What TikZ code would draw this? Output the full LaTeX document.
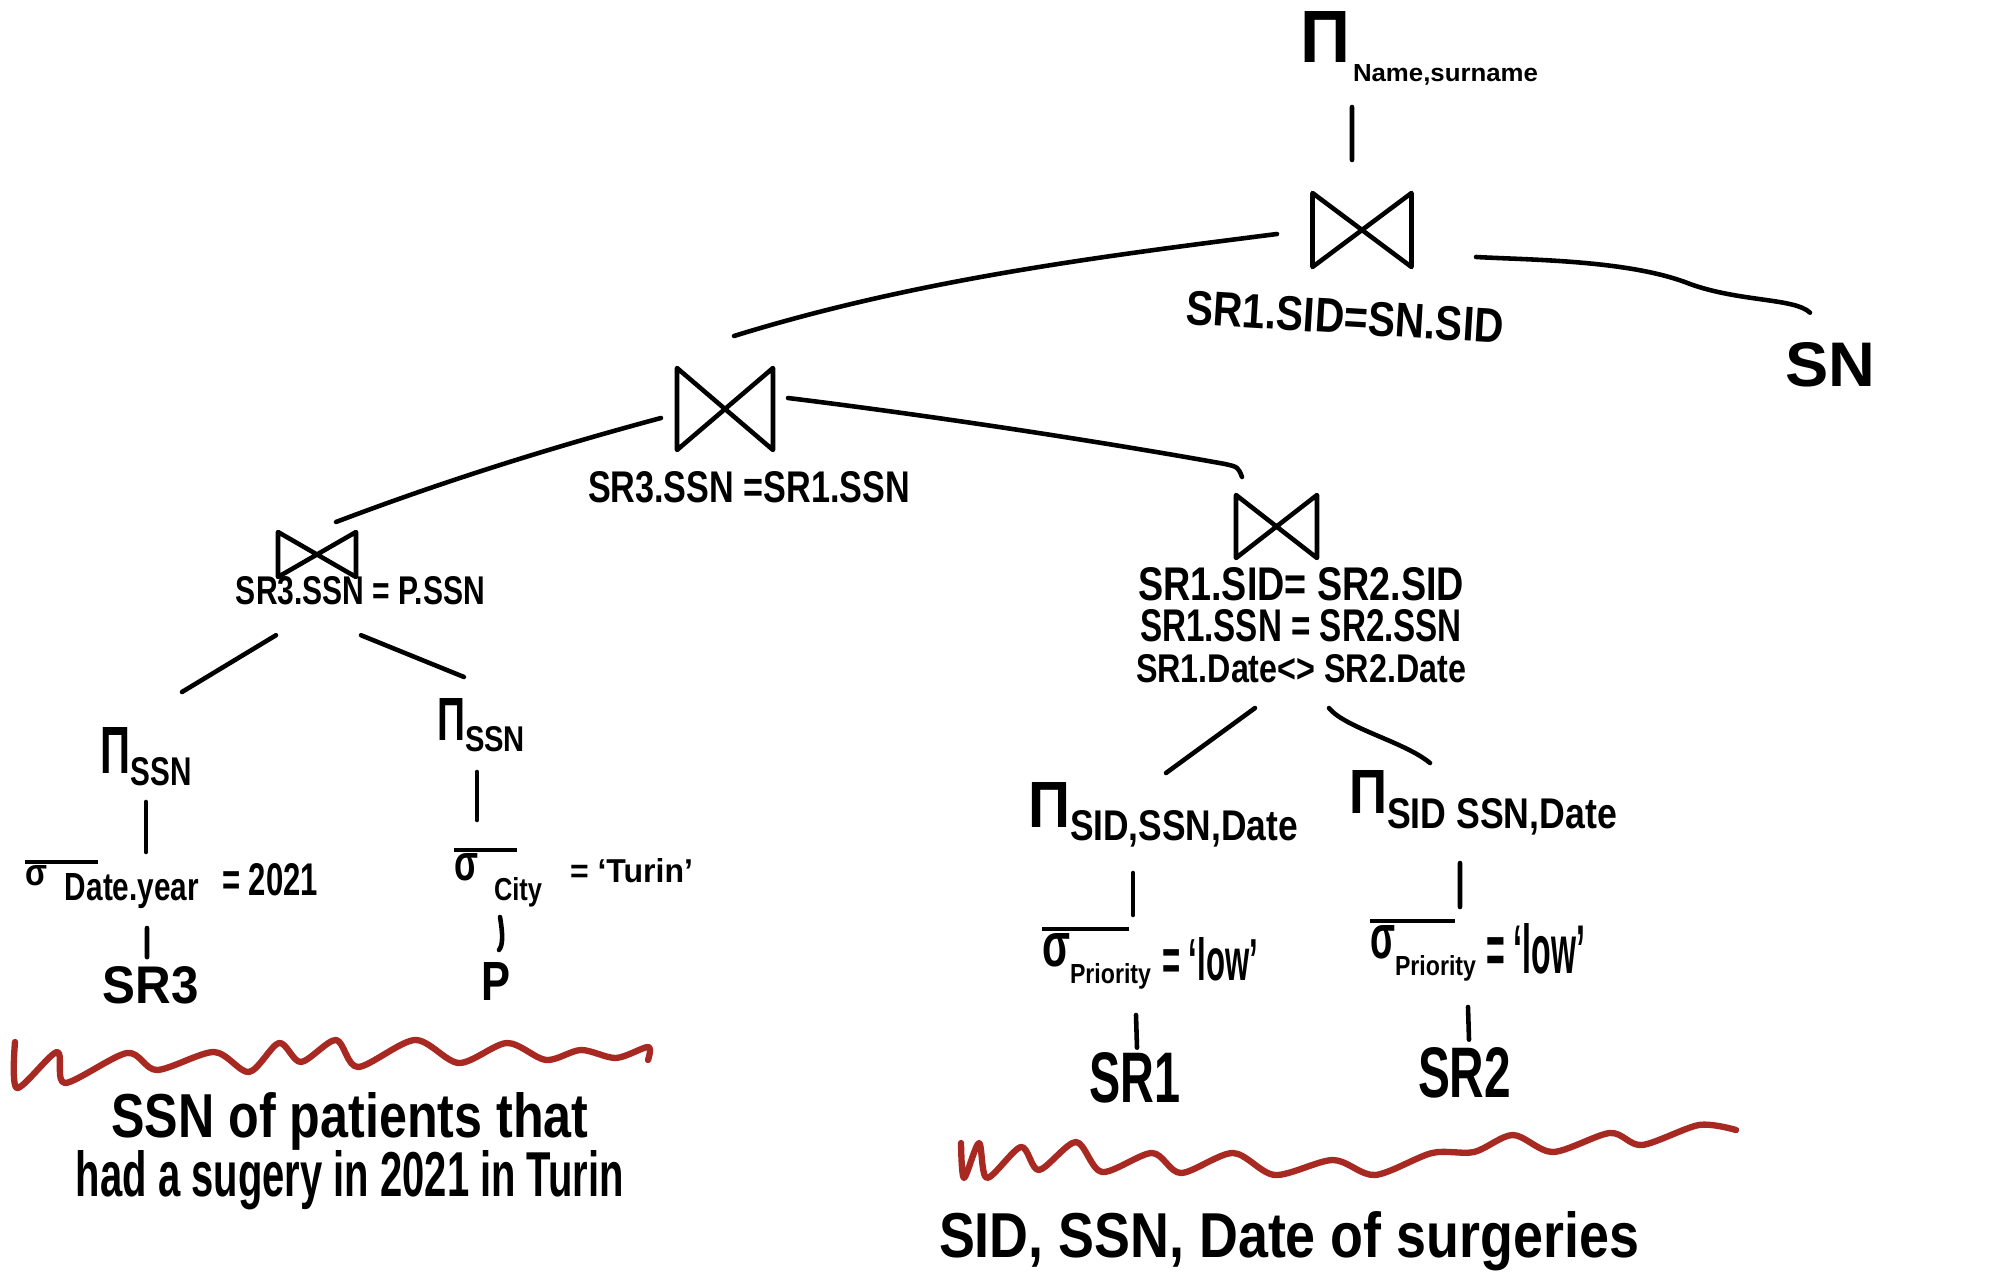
\documentclass[tikz,border=0pt]{standalone}
\usepackage{fontspec}
\setmainfont{Liberation Sans}
\usepackage{graphicx}
\usetikzlibrary{calc}
\definecolor{wavered}{RGB}{168,40,34}
\newcommand{\fb}[3]{\resizebox{#1}{#2}{#3}}
\newcommand{\fbz}[3]{\raisebox{0pt}[\height][0pt]{\resizebox{#1}{#2}{#3}}}
\newcommand{\drawbow}[1]{\draw[conn,line join=round] (#1.north west) -- (#1.south west) -- (#1.north east) -- (#1.south east) -- cycle;}
\tikzset{
 conn/.style={line width=1.3pt, line cap=round, black},
 wave/.style={line width=1.8pt, line cap=round, line join=round, wavered},
 lab/.style={inner sep=0pt, outer sep=0pt, font=\bfseries},
 bow/.style={inner sep=0pt, outer sep=0pt, draw=none},
}
\begin{document}
\begin{tikzpicture}[x=1cm,y=-1cm]
\fill[white] (0,0) rectangle (20.12,12.85);
\useasboundingbox (0,0) rectangle (20.12,12.85);

% ---------- top ----------
\node[lab, anchor=base west] (tpi) at (13.00,0.63) {\fb{0.50cm}{0.51cm}{Π}\hspace{0.03cm}\raisebox{-0.19cm}{\fb{1.85cm}{0.17cm}{Name,surname}}};
\node[bow, minimum width=0.99cm, minimum height=0.74cm] (jtop) at (13.62,2.30) {};
\node[lab, rotate=-3.5] (ltop) at (13.45,3.17) {\fb{3.18cm}{0.34cm}{SR1.SID=SN.SID}};
\node[lab] (sn) at (18.30,3.65) {\fb{0.90cm}{0.44cm}{SN}};

% ---------- middle join ----------
\node[bow, minimum width=0.96cm, minimum height=0.82cm] (jmid) at (7.25,4.09) {};
\node[lab] (lmid) at (7.49,4.875) {\fb{3.22cm}{0.31cm}{SR3.SSN =SR1.SSN}};

% ---------- left subtree ----------
\node[bow, minimum width=0.78cm, minimum height=0.45cm] (jl) at (3.17,5.545) {};
\node[lab] (ll) at (3.605,5.91) {\fb{2.49cm}{0.28cm}{SR3.SSN = P.SSN}};
\node[lab, anchor=base west] (pisl) at (1.00,7.73) {\fb{0.30cm}{0.46cm}{Π}\hspace{0.01cm}\raisebox{-0.12cm}{\fb{0.61cm}{0.28cm}{SSN}}};
\node[lab, anchor=base west] (pisr) at (4.37,7.40) {\fb{0.28cm}{0.42cm}{Π}\raisebox{-0.12cm}{\fb{0.60cm}{0.25cm}{SSN}}};
\node[lab, anchor=base west] (sigsl) at (0.25,8.85) {\rlap{\rule[0.2075cm]{0.73cm}{0.045cm}}\fb{0.22cm}{0.20cm}{σ}\hspace{0.18cm}\raisebox{-0.15cm}{\fb{1.34cm}{0.27cm}{Date.year}}\hspace{0.23cm}\raisebox{-0.10cm}{\fb{0.96cm}{0.32cm}{= 2021}}};
\node[lab, anchor=base west] (sigsr) at (4.54,8.80) {\rlap{\rule[0.2775cm]{0.63cm}{0.045cm}}\fb{0.24cm}{0.27cm}{σ}\hspace{0.16cm}\raisebox{-0.20cm}{\fb{0.48cm}{0.23cm}{City}}\hspace{0.28cm}\raisebox{-0.02cm}{\fb{1.23cm}{0.24cm}{= ‘Turin’}}};
\node[lab] (sr3) at (1.51,9.85) {\fb{0.96cm}{0.37cm}{SR3}};
\node[lab] (p) at (4.955,9.81) {\fb{0.29cm}{0.38cm}{P}};

% ---------- right subtree ----------
\node[bow, minimum width=0.81cm, minimum height=0.63cm] (jr) at (12.765,5.265) {};
\node[lab, anchor=north, align=center, font=\fontsize{8pt}{11.67pt}\selectfont\bfseries] (lr) at (13.01,5.67) {\fbz{3.26cm}{0.33cm}{SR1.SID= SR2.SID}\\\fbz{3.22cm}{0.32cm}{SR1.SSN = SR2.SSN}\\\fbz{3.30cm}{0.28cm}{SR1.Date<> SR2.Date}};
\node[lab, anchor=base west] (pil) at (10.28,8.27) {\fb{0.42cm}{0.45cm}{Π}\raisebox{-0.13cm}{\fb{2.28cm}{0.30cm}{SID,SSN,Date}}};
\node[lab, anchor=base west] (pir) at (13.49,8.13) {\fb{0.38cm}{0.43cm}{Π}\raisebox{-0.15cm}{\fb{2.30cm}{0.30cm}{SID SSN,Date}}};
\node[lab, anchor=base west] (sigl) at (10.42,9.66) {\rlap{\rule[0.3475cm]{0.87cm}{0.045cm}}\fb{0.28cm}{0.33cm}{σ}\raisebox{-0.17cm}{\fb{0.81cm}{0.20cm}{Priority}}\hspace{0.11cm}\raisebox{-0.14cm}{\fb{0.96cm}{0.43cm}{= ‘low’}}};
\node[lab, anchor=base west] (sigr) at (13.70,9.58) {\rlap{\rule[0.3475cm]{0.85cm}{0.045cm}}\fb{0.25cm}{0.33cm}{σ}\raisebox{-0.17cm}{\fb{0.81cm}{0.20cm}{Priority}}\hspace{0.10cm}\raisebox{-0.15cm}{\fb{0.99cm}{0.50cm}{= ‘low’}}};
\node[lab] (sr1) at (11.35,10.78) {\fb{0.91cm}{0.50cm}{SR1}};
\node[lab] (sr2) at (14.645,10.73) {\fb{0.93cm}{0.50cm}{SR2}};

% ---------- notes ----------
\node[lab, anchor=north, align=center, font=\fontsize{8pt}{17.07pt}\selectfont\bfseries] (note1) at (3.50,10.92) {\fbz{4.77cm}{0.45cm}{SSN of patients that}\\\fbz{5.48cm}{0.46cm}{had a sugery in 2021 in Turin}};
\node[lab, anchor=base west] (note2) at (9.39,12.57) {\fb{7.00cm}{0.46cm}{SID, SSN, Date of surgeries}};

% ---------- join symbols ----------
\drawbow{jtop}
\drawbow{jmid}
\drawbow{jr}
\drawbow{jl}

% ---------- connectors ----------
\draw[conn] ([shift={(0.52,0.44)}]tpi.base west) -- ([shift={(-0.10,-0.33)}]jtop.north);
\draw[conn] ([shift={(-0.355,0.04)}]jtop.west) .. controls (10.96,2.57) and (9.15,2.80) .. ([shift={(0.09,-0.32)}]jmid.north);
\draw[conn] ([shift={(0.645,0.27)}]jtop.east) .. controls (15.3,2.60) and (16.3,2.60) .. (16.9,2.84) .. controls (17.4,3.02) and (17.95,2.98) .. ([shift={(-0.20,-0.30)}]sn.north);
\draw[conn] ([shift={(-0.16,0.09)}]jmid.west) .. controls (5.53,4.47) and (4.44,4.81) .. ([shift={(0.19,-0.10)}]jl.north);
\draw[conn] ([shift={(0.15,-0.11)}]jmid.east) .. controls (9.5,4.18) and (11.2,4.45) .. (12.25,4.64) .. controls (12.38,4.67) .. ([shift={(-0.345,-0.18)}]jr.north);

\draw[conn] ([shift={(-0.46,0.26)}]lr.south) -- ([shift={(1.38,-0.09)}]pil.north west);
\draw[conn] ([shift={(0.28,0.26)}]lr.south) .. controls (13.45,7.28) and (14.05,7.42) .. ([shift={(0.81,-0.07)}]pir.north west);
\draw[conn] ([shift={(1.05,0.46)}]pil.base west) -- ([shift={(0.91,-0.51)}]sigl.base west);
\draw[conn] ([shift={(1.11,0.50)}]pir.base west) -- ([shift={(0.90,-0.51)}]sigr.base west);
\draw[conn] ([shift={(0.94,0.49)}]sigl.base west) -- ([shift={(0.02,-0.05)}]sr1.north);
\draw[conn] ([shift={(0.98,0.49)}]sigr.base west) -- ([shift={(0.045,-0.08)}]sr2.north);

\draw[conn] ([shift={(-0.845,0.30)}]ll.south) -- ([shift={(0.82,-0.35)}]pisl.north west);
\draw[conn] ([shift={(0.005,0.30)}]ll.south) -- ([shift={(0.27,-0.21)}]pisr.north west);
\draw[conn] ([shift={(0.46,0.29)}]pisl.base west) -- ([shift={(1.21,-0.33)}]sigsl.base west);
\draw[conn] ([shift={(0.40,0.32)}]pisr.base west) -- ([shift={(0.23,-0.60)}]sigsr.base west);
\draw[conn] ([shift={(1.22,0.43)}]sigsl.base west) -- ([shift={(-0.04,-0.09)}]sr3.north);
\draw[conn] ([shift={(0.46,0.37)}]sigsr.base west) .. controls (5.03,9.35) and (5.03,9.45) .. ([shift={(0.035,-0.12)}]p.north);

% ---------- red underlines ----------
\draw[wave] plot[smooth, tension=0.5] coordinates {(0.15,10.42) (0.17,10.88) (0.57,10.52) (0.65,10.83) (1.27,10.53) (1.57,10.70) (2.14,10.52) (2.49,10.72) (2.79,10.43) (3.01,10.62) (3.36,10.40) (3.58,10.67) (4.15,10.40) (4.59,10.63) (5.07,10.43) (5.46,10.60) (5.81,10.50) (6.16,10.58) (6.48,10.47) (6.48,10.60)};
\draw[wave] plot[smooth, tension=0.5] coordinates {(9.61,11.43) (9.64,11.78) (9.79,11.43) (9.87,11.78) (10.21,11.47) (10.39,11.70) (10.76,11.42) (11.02,11.72) (11.52,11.53) (11.81,11.73) (12.33,11.53) (12.75,11.75) (13.33,11.60) (13.75,11.75) (14.32,11.53) (14.74,11.52) (15.13,11.35) (15.53,11.52) (16.10,11.33) (16.42,11.45) (16.99,11.25) (17.36,11.30)};
\end{tikzpicture}
\end{document}
